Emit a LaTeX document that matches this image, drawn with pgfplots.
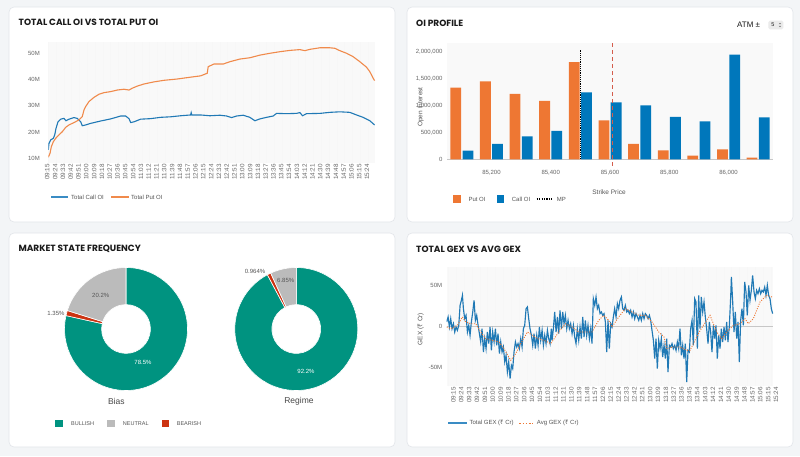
\documentclass[border=0pt]{standalone}
\usepackage{fontspec}
\setmainfont{Liberation Sans}
\newfontfamily\titlefont{Poppins}
\newfontfamily\rupeefont{Noto Sans}
\usepackage{pgfplots}
\pgfplotsset{compat=1.18}
\newcommand{\fs}[1]{\fontsize{#1}{#1}\selectfont}
\newcommand{\R}{{\rupeefont ₹}}
\definecolor{cblue}{HTML}{0077BB}
\definecolor{lblue}{HTML}{2079B5}
\definecolor{legblue}{HTML}{3A8CC4}
\definecolor{corange}{HTML}{EE7733}
\definecolor{lorange}{HTML}{F08A4B}
\definecolor{cteal}{HTML}{009380}
\definecolor{cred}{HTML}{CC3311}
\definecolor{cgray}{HTML}{BBBBBB}
\definecolor{cdash}{HTML}{D45D4C}
\definecolor{pagebg}{HTML}{F3F5F7}
\definecolor{cardborder}{HTML}{E2E5E9}
\definecolor{plotbg}{HTML}{F9F9F9}
\definecolor{ticktxt}{HTML}{666666}
\definecolor{legtxt}{HTML}{555555}
\definecolor{titletxt}{HTML}{1A1A1A}

\newcommand{\slice}[4]{%
  \fill[#4, draw=white, line width=0.6pt]
    ([shift={({90-3.6*#2}:61.5pt)}]#1) arc[start angle={90-3.6*#2}, end angle={90-3.6*#3}, radius=61.5pt]
    -- ([shift={({90-3.6*#3}:24.4pt)}]#1) arc[start angle={90-3.6*#3}, end angle={90-3.6*#2}, radius=24.4pt]
    -- cycle;}

\pgfplotsset{
  dash/.style={scale only axis, anchor=south west,
    axis line style={draw=none}, tick style={draw=none},
    axis background/.style={fill=plotbg},
    tick label style={font=\fs{6}, text=ticktxt},
    /pgf/number format/assume math mode=true,
    scaled ticks=false},
  timeticks/.style={xtick={0,9,...,369},
    xticklabels={09:15,09:24,09:33,09:42,09:51,10:00,10:09,10:18,10:27,10:36,10:45,10:54,11:03,11:12,11:21,11:30,11:39,11:48,11:57,12:06,12:15,12:24,12:33,12:42,12:51,13:00,13:09,13:18,13:27,13:36,13:45,13:54,14:03,14:12,14:21,14:30,14:39,14:48,14:57,15:06,15:15,15:24},
    xticklabel style={rotate=90, anchor=east, inner sep=1pt, font=\fs{6.3}}},
}

\begin{document}
\begin{tikzpicture}[x=1pt,y=1pt]
\fill[pagebg] (0pt,0pt) rectangle (800pt,456pt);
\filldraw[fill=white, draw=cardborder, line width=0.6pt, rounded corners=5pt] (9pt,234pt) rectangle (395pt,449pt);
\filldraw[fill=white, draw=cardborder, line width=0.6pt, rounded corners=5pt] (407pt,234pt) rectangle (793pt,449pt);
\filldraw[fill=white, draw=cardborder, line width=0.6pt, rounded corners=5pt] (9pt,9pt) rectangle (395pt,223pt);
\filldraw[fill=white, draw=cardborder, line width=0.6pt, rounded corners=5pt] (407pt,9pt) rectangle (793pt,223pt);

% titles
\node[anchor=west, inner sep=0, font=\titlefont\bfseries\fs{9}, text=titletxt] at (18.5pt,433.3pt) {TOTAL CALL OI VS TOTAL PUT OI};
\node[anchor=west, inner sep=0, font=\titlefont\bfseries\fs{9}, text=titletxt] at (416pt,432.3pt) {OI PROFILE};
\node[anchor=west, inner sep=0, font=\titlefont\bfseries\fs{9}, text=titletxt] at (18.3pt,207pt) {MARKET STATE FREQUENCY};
\node[anchor=west, inner sep=0, font=\titlefont\bfseries\fs{9}, text=titletxt] at (416pt,207pt) {TOTAL GEX VS AVG GEX};

% ---------- Panel 1 ----------
\begin{axis}[dash, timeticks, at={(48.3pt,293pt)}, width=326.7pt, height=121pt,
  xmin=0, xmax=377, ymin=8.2, ymax=54.3,
  ytick={10,20,30,40,50}, yticklabels={10M,20M,30M,40M,50M},
  yticklabel style={xshift=-5pt}, xticklabel style={yshift=1pt},
  xmajorgrids, grid style={black!3, line width=0.5pt}]
\addplot[lblue, line width=1.1pt] coordinates {(0,13.2)(0.8,15.7)(2.8,17.0)(5.8,17.6)(7.4,18.9)(8.9,21.4)(11.2,23.9)(14.3,24.9)(18.1,25.2)(20.4,24.3)(23.9,24.9)(29.6,25.5)(33.5,25.2)(37.4,23.9)(39.2,22.4)(43.1,22.7)(48.9,23.3)(60.4,24.2)(72,25.0)(83.5,26.1)(89.3,26.1)(93.1,25.1)(95.1,23.6)(98.9,23.9)(106.6,24.9)(118.1,25.1)(129.6,25.6)(141.2,25.8)(152.7,26.2)(164.2,26.5)(164.9,27.4)(165.6,26.5)(175.8,26.5)(186.5,26.2)(198,26.4)(205.8,26.1)(211.5,25.5)(217.3,26.1)(224.9,26.4)(232.6,25.6)(238.4,24.3)(244.2,25.0)(251.9,25.6)(259.5,26.1)(263.4,27.1)(274.9,27.0)(286.5,27.1)(290.3,27.4)(293.4,26.2)(298,27.0)(313.4,27.1)(324.9,27.5)(336.4,27.7)(347.9,27.5)(355.7,26.5)(363.3,25.6)(371,24.3)(376.5,22.7)};
\addplot[lorange, line width=1.1pt] coordinates {(0,10.4)(2,11.9)(3.5,14.4)(5.8,16.3)(8.5,17.6)(12.3,18.9)(16.1,20.1)(20.1,21.8)(23.9,22.7)(29.6,23.6)(35.4,24.6)(39.2,25.9)(41.2,28.4)(43.1,29.7)(46.9,31.6)(52.7,33.2)(58.5,34.4)(64.2,35.0)(72,35.4)(79.6,36.0)(87.3,36.3)(93.1,36.0)(96.9,36.7)(102.7,37.5)(110.4,38.3)(121.9,39.1)(133.4,39.7)(148.8,40.2)(164.2,40.9)(175.8,41.4)(183.4,42.4)(184.5,44.9)(191.1,45.9)(201.8,45.9)(209.6,46.8)(221.1,47.8)(232.6,48.3)(244.2,49.3)(255.7,50.0)(267.2,50.6)(278.8,51.1)(290.3,51.4)(296.1,51.0)(301.8,51.5)(313.4,52.1)(324.9,52.1)(330.7,51.9)(336.4,51.0)(344.2,50.0)(351.8,48.7)(359.5,46.8)(367.2,44.7)(371,43.0)(374.9,40.5)(376.5,39.6)};
\end{axis}
\fill[legblue] (50.7pt,257.6pt) rectangle (68.3pt,259.8pt);
\node[anchor=west, inner sep=0, font=\fs{6}, text=legtxt] at (71pt,258.7pt) {Total Call OI};
\fill[lorange] (111pt,257.6pt) rectangle (128.7pt,259.8pt);
\node[anchor=west, inner sep=0, font=\fs{6}, text=legtxt] at (131pt,258.7pt) {Total Put OI};

% ---------- Panel 2 ----------
\begin{scope}
\clip (416.5pt,0pt) rectangle (800pt,456pt);
\begin{axis}[dash, at={(447pt,296.7pt)}, width=326pt, height=116.3pt,
  xmin=85050, xmax=86150, ymin=0, ymax=2154000, clip=false,
  xtick={85200,85400,85600,85800,86000},
  xticklabels={{85,200},{85,400},{85,600},{85,800},{86,000}},
  ytick={0,500000,1000000,1500000,2000000},
  yticklabels={0,{500,000},{1,000,000},{1,500,000},{2,000,000}},
  xticklabel style={yshift=-7pt}, yticklabel style={xshift=-1pt}]
\draw[black!22, line width=0.7pt] (axis cs:85050,0) -- (axis cs:86150,0);
\addplot[ybar, bar width=10.8pt, bar shift=-6.1pt, fill=corange, draw=none] coordinates {(85100,1327000)(85200,1444000)(85300,1210000)(85400,1080000)(85500,1802000)(85600,722000)(85700,284000)(85800,167000)(85900,68000)(86000,185000)(86100,31000)};
\addplot[ybar, bar width=10.8pt, bar shift=6.1pt, fill=cblue, draw=none] coordinates {(85100,160000)(85200,284000)(85300,426000)(85400,525000)(85500,1240000)(85600,1056000)(85700,1000000)(85800,784000)(85900,704000)(86000,1938000)(86100,778000)};
\addplot[black, line width=1.4pt, dash pattern=on 1.1pt off 1.1pt] coordinates {(85500,0)(85500,2030000)};
\addplot[cdash, line width=1pt, dash pattern=on 4pt off 3pt] coordinates {(85609,-120000)(85609,2154000)};
\end{axis}
\node[rotate=90, inner sep=0, font=\fs{6.5}, text=legtxt] at (420.7pt,349pt) {Open Interest};
\end{scope}
\node[inner sep=0, font=\fs{6.5}, text=legtxt] at (609pt,264pt) {Strike Price};
\fill[corange] (453.3pt,253.3pt) rectangle (461pt,260.7pt);
\node[anchor=west, inner sep=0, font=\fs{6}, text=legtxt] at (468.3pt,257pt) {Put OI};
\fill[cblue] (496.7pt,253.3pt) rectangle (504.3pt,260.7pt);
\node[anchor=west, inner sep=0, font=\fs{6}, text=legtxt] at (511.7pt,257pt) {Call OI};
\draw[black, line width=1.3pt, dash pattern=on 1.2pt off 1.2pt] (536.7pt,257pt) -- (551.7pt,257pt);
\node[anchor=west, inner sep=0, font=\fs{6}, text=legtxt] at (556.7pt,257pt) {MP};
\node[anchor=west, inner sep=0, font=\fs{8}, text=titletxt] at (737pt,431.3pt) {ATM ±};
\fill[black!8, rounded corners=1.5pt] (768.3pt,426.7pt) rectangle (783.3pt,435.3pt);
\node[inner sep=0, font=\fs{5.5}, text=titletxt] at (772.8pt,431pt) {5};
\draw[black!60, line width=0.4pt] (779pt,431.8pt)--(780pt,432.8pt)--(781pt,431.8pt);
\draw[black!60, line width=0.4pt] (779pt,430.2pt)--(780pt,429.2pt)--(781pt,430.2pt);

% ---------- Panel 3 ----------
\begin{axis}[at={(126pt,127pt)}, anchor=south west, scale only axis, width=170.3pt, height=20pt,
  xmin=0, xmax=1, ymin=0, ymax=1, hide axis, clip=false]
\addplot[draw=none] coordinates {(0,0)(1,1)};
\coordinate (B) at (axis cs:0,0);
\coordinate (G) at (axis cs:1,0);
\slice{B}{0}{78.5}{cteal}
\slice{B}{78.5}{79.85}{cred}
\slice{B}{79.85}{100}{cgray}
\slice{G}{0}{92.2}{cteal}
\slice{G}{92.2}{93.164}{cred}
\slice{G}{93.164}{100}{cgray}
\end{axis}
\node[inner sep=0, font=\fs{6}, text=white] at (143pt,93.3pt) {78.5\%};
\node[inner sep=0, font=\fs{6}, text=legtxt] at (100.7pt,161pt) {20.2\%};
\node[inner sep=0, font=\fs{6}, text=legtxt] at (56pt,142.7pt) {1.35\%};
\node[inner sep=0, font=\fs{6}, text=white] at (306pt,85pt) {92.2\%};
\node[inner sep=0, font=\fs{6}, text=legtxt] at (285.7pt,175.3pt) {6.85\%};
\node[inner sep=0, font=\fs{6}, text=legtxt] at (255pt,184.3pt) {0.964\%};
\node[inner sep=0, font=\fs{8.5}, text=titletxt!80] at (116.3pt,54.3pt) {Bias};
\node[inner sep=0, font=\fs{8.5}, text=titletxt!80] at (299pt,54.3pt) {Regime};
\fill[cteal] (55pt,28.7pt) rectangle (62.7pt,36pt);
\node[anchor=west, inner sep=0, font=\fs{5.5}, text=legtxt] at (71pt,32.4pt) {BULLISH};
\fill[cgray] (107.3pt,28.7pt) rectangle (115pt,36pt);
\node[anchor=west, inner sep=0, font=\fs{5.5}, text=legtxt] at (122.7pt,32.4pt) {NEUTRAL};
\fill[cred] (161.7pt,28.7pt) rectangle (169.3pt,36pt);
\node[anchor=west, inner sep=0, font=\fs{5.5}, text=legtxt] at (176.7pt,32.4pt) {BEARISH};

% ---------- Panel 4 ----------
\begin{axis}[dash, timeticks, at={(446.7pt,70pt)}, width=326.3pt, height=118.7pt,
  xmin=-1.9, xmax=371.3, ymin=-73.2, ymax=71.6,
  ytick={-50,0,50}, yticklabels={-50M,0,50M},
  yticklabel style={xshift=-1pt}, xticklabel style={yshift=-5pt},
  xmajorgrids, grid style={black!3, line width=0.5pt}]
\addplot[black!22, line width=0.9pt] coordinates {(-1.9,0)(371.3,0)};
\addplot[lblue, line width=1.15pt] coordinates {(-1.9,4.9)(-0.3,11.0)(1.2,-1.2)(2.7,8.9)(4.2,-3.3)(5.8,2.8)(7.3,-7.3)(8.8,-1.2)(10.3,-5.3)(11.9,0.8)(13.4,25.2)(14.9,31.3)(16.1,37.4)(17.2,21.1)(18.7,8.9)(20.2,13.0)(21.8,-7.3)(23.3,0.8)(24.8,-11.4)(26.3,4.9)(27.9,17.1)(29.4,31.3)(30.9,6.9)(32.4,13.0)(34.0,0.8)(35.5,-9.3)(37.0,-19.5)(38.5,-3.3)(40.1,-31.7)(41.6,-15.4)(43.1,-27.6)(44.6,-7.3)(46.2,-21.5)(47.7,-1.2)(49.2,-29.7)(50.7,-7.3)(52.3,-19.5)(53.8,-3.3)(55.3,-23.6)(56.8,-9.3)(58.4,-33.7)(59.9,-19.5)(61.4,-31.7)(62.9,-25.6)(64.5,-43.9)(66.0,-35.8)(67.5,-56.1)(69.0,-43.9)(70.6,-64.2)(72.1,-48.0)(73.6,-52.0)(75.1,-31.7)(76.7,-19.5)(78.2,-25.6)(79.7,-21.5)(81.2,-27.6)(82.8,-15.4)(84.3,-25.6)(85.8,-3.3)(87.3,0.8)(88.9,21.1)(90.4,23.2)(91.9,8.9)(93.4,-3.3)(95.0,-11.4)(96.5,-23.6)(98.0,-9.3)(99.5,-27.6)(101.1,-11.4)(102.6,-23.6)(104.1,-1.2)(105.6,-17.5)(107.2,-5.3)(108.7,-23.6)(110.2,-11.4)(111.7,-21.5)(113.3,-5.3)(114.8,-15.4)(116.3,-21.5)(117.8,-3.3)(118.6,-17.5)(120.1,-3.3)(121.6,17.1)(123.2,-7.3)(124.7,11.0)(126.2,-9.3)(127.7,19.1)(129.3,-3.3)(130.8,17.1)(132.3,2.8)(133.8,13.0)(135.4,-3.3)(136.9,6.9)(138.4,-3.3)(139.9,2.8)(141.5,-9.3)(143.0,0.8)(144.5,-13.4)(146.0,-21.5)(147.5,-3.3)(149.1,-17.5)(150.6,-1.2)(152.1,-15.4)(153.7,11.0)(155.2,-13.4)(156.7,6.9)(158.2,-11.4)(159.7,0.8)(161.3,-15.4)(162.8,-3.3)(164.3,-21.5)(165.8,33.3)(167.4,25.2)(168.9,35.4)(170.4,21.1)(171.9,25.2)(173.5,15.1)(175.0,17.1)(176.5,13.0)(178.0,15.1)(179.6,4.9)(181.1,-31.7)(182.6,6.9)(184.1,-27.6)(185.7,2.8)(187.2,-1.2)(188.7,11.0)(190.2,21.1)(191.8,11.0)(193.3,27.2)(194.8,21.1)(196.3,31.3)(197.9,35.4)(199.4,21.1)(200.9,19.1)(202.4,25.2)(204.0,17.1)(205.5,19.1)(207.0,15.1)(208.5,19.1)(210.1,11.0)(211.6,17.1)(213.1,8.9)(214.6,15.1)(216.2,11.0)(217.7,6.9)(219.2,13.0)(220.7,6.9)(222.3,15.1)(223.8,8.9)(225.3,15.1)(226.8,13.0)(228.4,8.9)(229.9,13.0)(231.4,6.9)(232.9,-5.3)(234.5,-17.5)(236.0,-39.8)(237.5,-15.4)(239.0,-52.0)(240.6,-17.5)(242.1,-27.6)(243.6,-15.4)(245.1,-37.8)(246.7,-23.6)(248.2,-39.8)(249.7,-15.4)(251.2,-56.1)(252.8,-23.6)(254.3,-25.6)(255.8,-21.5)(257.3,-27.6)(258.9,-23.6)(260.4,-29.7)(261.9,-19.5)(263.4,-27.6)(264.9,-3.3)(266.5,-35.8)(268.0,-23.6)(269.5,-39.8)(271.0,-21.5)(272.6,-68.3)(274.1,-29.7)(275.6,-31.7)(277.1,-3.3)(278.7,6.9)(280.2,-23.6)(281.7,33.3)(283.2,29.3)(284.8,-27.6)(286.3,37.4)(287.8,-3.3)(289.3,35.4)(290.9,17.1)(292.4,29.3)(293.9,11.0)(295.4,-3.3)(297.0,-21.5)(298.5,4.9)(300.0,-7.3)(301.5,-31.7)(303.1,0.8)(304.6,-15.4)(306.1,0.8)(307.6,-39.8)(309.2,-11.4)(310.7,-27.6)(312.2,-3.3)(313.7,-19.5)(315.3,-1.2)(316.8,-17.5)(318.3,4.9)(319.8,-19.5)(321.4,0.8)(322.9,35.4)(323.7,59.8)(325.2,29.3)(326.7,-7.3)(328.2,17.1)(329.8,-15.4)(331.3,4.9)(332.8,-43.9)(334.3,6.9)(335.8,21.1)(337.4,0.8)(338.9,53.7)(340.4,41.5)(341.9,13.0)(343.5,49.6)(345.0,31.3)(346.5,43.5)(348.0,61.8)(349.6,41.5)(351.1,33.3)(352.6,43.5)(354.1,39.4)(355.7,45.5)(357.2,39.4)(358.7,43.5)(360.2,41.5)(361.8,47.5)(363.3,37.4)(364.8,49.6)(366.3,37.4)(367.9,33.3)(369.4,21.1)(370.9,15.1)};
\addplot[corange, line width=0.9pt, dash pattern=on 1pt off 1.4pt] coordinates {(-1.9,-1.2)(2.7,-3.3)(10.3,0.8)(16.1,11.0)(19.9,4.9)(25.6,2.8)(31.3,2.8)(37.0,-7.3)(42.7,-15.4)(50.4,-17.5)(58.0,-19.5)(63.7,-27.6)(71.3,-41.9)(77.0,-33.7)(82.8,-21.5)(90.4,-7.3)(96.1,-11.4)(101.8,-15.4)(109.4,-17.5)(117.1,-21.5)(126.2,-7.3)(133.8,2.8)(141.5,-1.2)(149.1,-7.3)(156.7,-7.3)(164.3,-7.3)(171.9,6.9)(177.7,13.0)(183.4,6.9)(187.2,-1.2)(194.8,11.0)(202.4,21.1)(210.1,17.1)(217.7,13.0)(225.3,13.0)(232.9,4.9)(240.6,-7.3)(246.7,-13.4)(249.7,-27.6)(257.3,-25.6)(264.9,-25.6)(272.6,-29.7)(276.4,-29.7)(280.2,-21.5)(285.9,-9.3)(291.6,0.8)(299.3,13.0)(306.9,-7.3)(312.6,-15.4)(318.3,-7.3)(326.0,0.8)(333.6,2.8)(339.3,8.9)(343.1,2.8)(348.8,8.9)(356.4,29.3)(364.0,37.4)(370.2,35.4)};
\end{axis}
\node[rotate=90, inner sep=0, font=\fs{6.5}, text=legtxt] at (420.7pt,127pt) {GEX (\R{} Cr)};
\fill[legblue] (448pt,31.6pt) rectangle (467pt,33.8pt);
\node[anchor=west, inner sep=0, font=\fs{6}, text=legtxt] at (469.3pt,32.7pt) {Total GEX (\R{} Cr)};
\draw[corange, line width=1.6pt, dash pattern=on 1.6pt off 1.6pt] (519.3pt,32.7pt) -- (533.3pt,32.7pt);
\node[anchor=west, inner sep=0, font=\fs{6}, text=legtxt] at (536.7pt,32.7pt) {Avg GEX (\R{} Cr)};
\end{tikzpicture}
\end{document}
